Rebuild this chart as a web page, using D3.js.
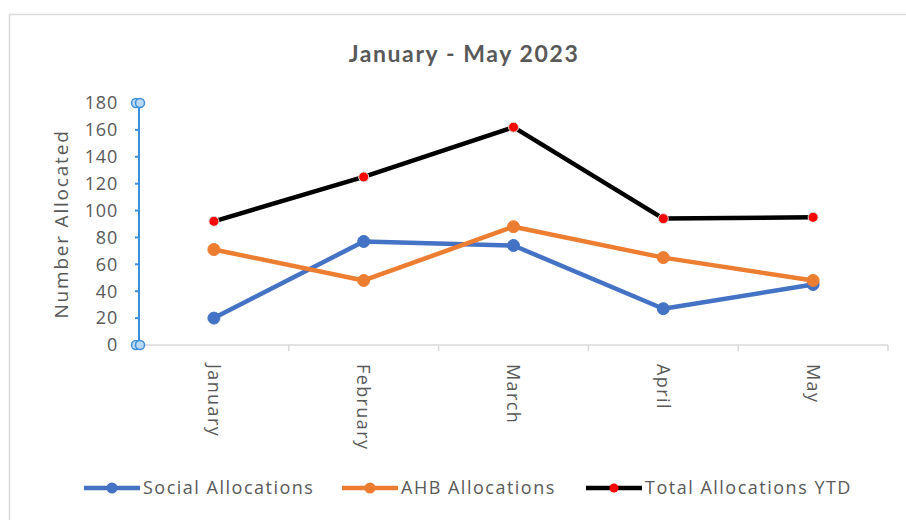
<!DOCTYPE html>
<html>
<head>
<meta charset="utf-8">
<script src="https://cdn.jsdelivr.net/npm/d3@7"></script>
<style>
  body { margin: 0; background: #fff; }
  svg { display: block; }
</style>
</head>
<body>
<svg id="chart" width="906" height="520"></svg>
<script>
const months = ["January", "February", "March", "April", "May"];
const social = [20, 77, 74, 27, 45];
const ahb = [71, 48, 88, 65, 48];
const total = [92, 125, 162, 94, 95];
const yTicks = [0, 20, 40, 60, 80, 100, 120, 140, 160, 180];

const series = [
  { name: "Social Allocations", values: social, color: "#4472C4", marker: "#4472C4", r: 6 },
  { name: "AHB Allocations", values: ahb, color: "#ED7D31", marker: "#ED7D31", r: 6 },
  { name: "Total Allocations YTD", values: total, color: "#000000", marker: "#FF0000", r: 5 }
];

const svg = d3.select("#chart");
const textColor = "#595959";
const font = "'Open Sans', sans-serif";

// chart area border
svg.append("rect")
  .attr("x", 9.5).attr("y", 14.5)
  .attr("width", 1000).attr("height", 1000)
  .attr("fill", "none")
  .attr("stroke", "#d9d9d9")
  .attr("stroke-width", 1.5);

const plotLeft = 139, plotRight = 888, plotTop = 103, plotBottom = 345;

const x = d3.scaleBand().domain(months).range([plotLeft, plotRight]);
const y = d3.scaleLinear().domain([0, 180]).range([plotBottom, plotTop]);

// title
svg.append("text")
  .attr("x", 464).attr("y", 62)
  .attr("text-anchor", "middle")
  .style("font-family", "Lato, 'Open Sans', sans-serif")
  .style("font-size", "23px")
  .style("letter-spacing", "1.6px")
  .style("font-weight", "bold")
  .style("fill", textColor)
  .text("January - May 2023");

// x axis
const xAxis = svg.append("g")
  .attr("transform", `translate(0,${plotBottom})`);
xAxis.append("line")
  .attr("x1", plotLeft).attr("x2", plotRight)
  .attr("stroke", "#d9d9d9").attr("stroke-width", 1.5);
xAxis.selectAll(".xt")
  .data(months)
  .enter().append("line")
  .attr("x1", d => x(d) + x.bandwidth()).attr("x2", d => x(d) + x.bandwidth())
  .attr("y1", 0).attr("y2", 6)
  .attr("stroke", "#d9d9d9").attr("stroke-width", 1.5);
xAxis.selectAll(".xl")
  .data(months)
  .enter().append("text")
  .attr("transform", d => `translate(${x(d) + x.bandwidth() / 2},19) rotate(90)`)
  .attr("dy", "0.35em")
  .style("font-family", font)
  .style("font-size", "18px")
  .style("letter-spacing", "1.4px")
  .style("fill", textColor)
  .text(d => d);

// y axis (selected look, blue)
const axisBlue = "#3d8fdb";
const yAxis = svg.append("g").attr("transform", `translate(${plotLeft},0)`);
yAxis.append("line")
  .attr("y1", y(0)).attr("y2", y(180))
  .attr("stroke", axisBlue).attr("stroke-width", 2);
yAxis.selectAll(".yt")
  .data(yTicks)
  .enter().append("line")
  .attr("x1", -4).attr("x2", 0)
  .attr("y1", d => y(d)).attr("y2", d => y(d))
  .attr("stroke", axisBlue).attr("stroke-width", 2);
yAxis.selectAll(".yl")
  .data(yTicks)
  .enter().append("text")
  .attr("x", -21).attr("y", d => y(d))
  .attr("dy", "0.35em")
  .attr("text-anchor", "end")
  .style("font-family", font)
  .style("font-size", "18px")
  .style("letter-spacing", "0.8px")
  .style("fill", textColor)
  .text(d => d);
[y(180), y(0)].forEach(yy => {
  [-3, 1].forEach(dx => {
    yAxis.append("circle")
      .attr("cx", dx).attr("cy", yy).attr("r", 4.5)
      .attr("fill", "#bcd9f4").attr("stroke", axisBlue).attr("stroke-width", 1.5);
  });
});

svg.append("text")
  .attr("transform", `translate(68,${(plotTop + plotBottom) / 2}) rotate(-90)`)
  .attr("text-anchor", "middle")
  .style("font-family", font)
  .style("font-size", "19px")
  .style("letter-spacing", "1.8px")
  .style("fill", textColor)
  .text("Number Allocated");

// lines
const line = d3.line()
  .x((d, i) => x(months[i]) + x.bandwidth() / 2)
  .y(d => y(d));

series.forEach(s => {
  svg.append("path")
    .datum(s.values)
    .attr("d", line)
    .attr("fill", "none")
    .attr("stroke", s.color)
    .attr("stroke-width", 4.5)
    .attr("stroke-linejoin", "round");
  svg.selectAll(null)
    .data(s.values)
    .enter().append("circle")
    .attr("cx", (d, i) => x(months[i]) + x.bandwidth() / 2)
    .attr("cy", d => y(d))
    .attr("r", s.r)
    .attr("fill", s.marker)
    .attr("stroke", s.marker === "#FF0000" ? "#ddd" : s.marker)
    .attr("stroke-width", 1);
});

// legend
const legendX = [84, 342, 586];
const legend = svg.append("g").attr("transform", "translate(0,488)");
series.forEach((s, i) => {
  const g = legend.append("g").attr("transform", `translate(${legendX[i]},0)`);
  g.append("line")
    .attr("x1", 0).attr("x2", 56)
    .attr("stroke", s.color).attr("stroke-width", 4.5);
  g.append("circle")
    .attr("cx", 28).attr("r", s.r - 0.5)
    .attr("fill", s.marker);
  g.append("text")
    .attr("x", 59).attr("dy", "0.35em")
    .style("font-family", font)
    .style("font-size", "18px")
    .style("letter-spacing", "1.5px")
    .style("fill", textColor)
    .text(s.name);
});
</script>
</body>
</html>
